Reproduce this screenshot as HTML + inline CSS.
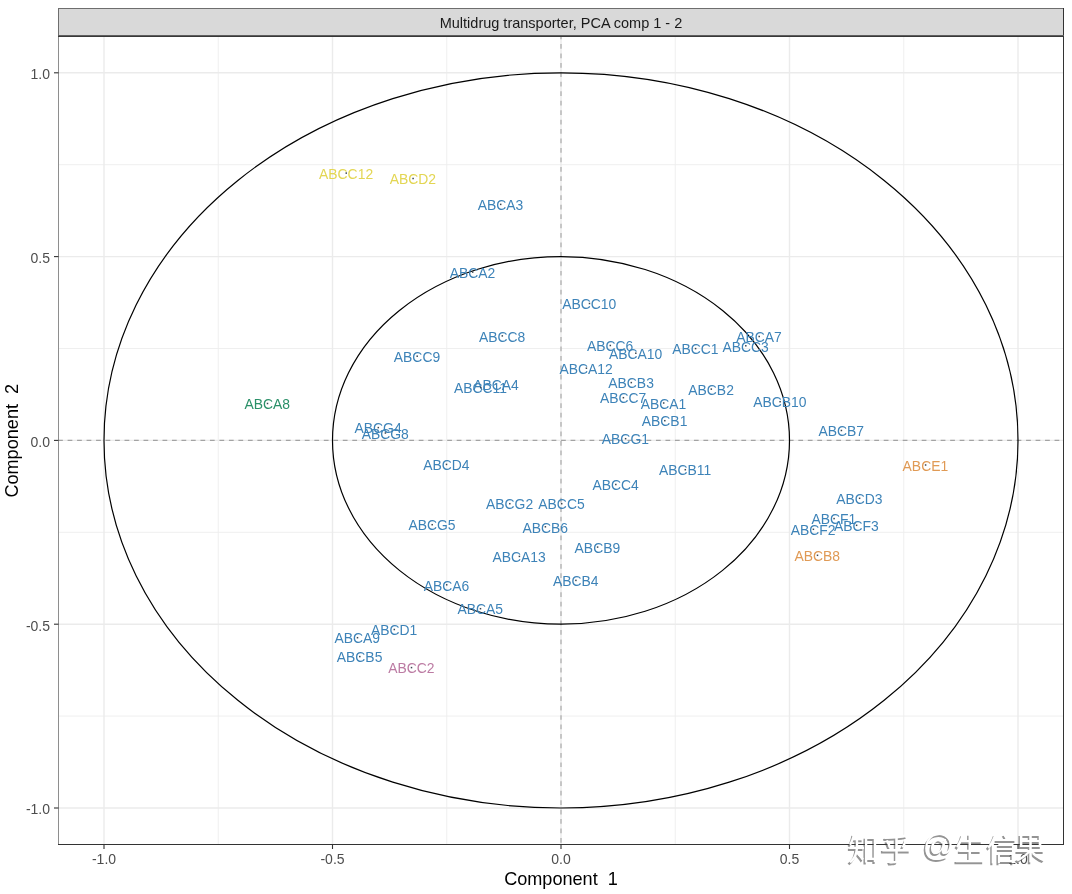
<!DOCTYPE html>
<html><head><meta charset="utf-8"><title>Multidrug transporter, PCA comp 1 - 2</title>
<style>
html,body{margin:0;padding:0;background:#fff;}
body{width:1072px;height:894px;overflow:hidden;position:relative;}
svg{display:block;position:absolute;left:0;top:0;will-change:transform;font-family:"Liberation Sans",Arial,sans-serif;}
.wm{position:absolute;font-family:"Liberation Sans","Noto Sans CJK SC",sans-serif;font-size:31px;line-height:1;color:#fff;white-space:nowrap;
text-shadow:-1.5px 1.5px 0.6px rgba(60,60,60,0.55);}
</style></head><body>
<svg width="1072" height="894" viewBox="0 0 1072 894">
<rect x="0" y="0" width="1072" height="894" fill="#fff"/>
<g shape-rendering="crispEdges">
<rect x="58" y="8" width="1006" height="29" fill="#D9D9D9"/>
<rect x="58" y="8" width="1006" height="1" fill="#6E6E6E"/>
<rect x="58" y="8" width="1" height="29" fill="#6E6E6E"/>
<rect x="1063" y="8" width="1" height="29" fill="#333333"/>
</g>
<text x="561.0" y="27.9" font-size="14.5" fill="#1A1A1A" text-anchor="middle">Multidrug transporter, PCA comp 1 - 2</text>
<line x1="218.25" y1="36.0" x2="218.25" y2="844.5" stroke="#EDEDED" stroke-width="0.9"/>
<line x1="58.5" y1="716.10" x2="1063.5" y2="716.10" stroke="#EDEDED" stroke-width="0.9"/>
<line x1="446.75" y1="36.0" x2="446.75" y2="844.5" stroke="#EDEDED" stroke-width="0.9"/>
<line x1="58.5" y1="532.30" x2="1063.5" y2="532.30" stroke="#EDEDED" stroke-width="0.9"/>
<line x1="675.25" y1="36.0" x2="675.25" y2="844.5" stroke="#EDEDED" stroke-width="0.9"/>
<line x1="58.5" y1="348.50" x2="1063.5" y2="348.50" stroke="#EDEDED" stroke-width="0.9"/>
<line x1="903.75" y1="36.0" x2="903.75" y2="844.5" stroke="#EDEDED" stroke-width="0.9"/>
<line x1="58.5" y1="164.70" x2="1063.5" y2="164.70" stroke="#EDEDED" stroke-width="0.9"/>
<line x1="104.00" y1="36.0" x2="104.00" y2="844.5" stroke="#EBEBEB" stroke-width="1.4"/>
<line x1="58.5" y1="808.00" x2="1063.5" y2="808.00" stroke="#EBEBEB" stroke-width="1.4"/>
<line x1="332.50" y1="36.0" x2="332.50" y2="844.5" stroke="#EBEBEB" stroke-width="1.4"/>
<line x1="58.5" y1="624.20" x2="1063.5" y2="624.20" stroke="#EBEBEB" stroke-width="1.4"/>
<line x1="561.00" y1="36.0" x2="561.00" y2="844.5" stroke="#EBEBEB" stroke-width="1.4"/>
<line x1="58.5" y1="440.40" x2="1063.5" y2="440.40" stroke="#EBEBEB" stroke-width="1.4"/>
<line x1="789.50" y1="36.0" x2="789.50" y2="844.5" stroke="#EBEBEB" stroke-width="1.4"/>
<line x1="58.5" y1="256.60" x2="1063.5" y2="256.60" stroke="#EBEBEB" stroke-width="1.4"/>
<line x1="1018.00" y1="36.0" x2="1018.00" y2="844.5" stroke="#EBEBEB" stroke-width="1.4"/>
<line x1="58.5" y1="72.80" x2="1063.5" y2="72.80" stroke="#EBEBEB" stroke-width="1.4"/>
<line x1="561.00" y1="36.0" x2="561.00" y2="844.5" stroke="#A3A3A3" stroke-width="1.1" stroke-dasharray="4.726 4.726" stroke-dashoffset="1.41"/>
<line x1="58.5" y1="440.40" x2="1063.5" y2="440.40" stroke="#A3A3A3" stroke-width="1.1" stroke-dasharray="4.745 4.745" stroke-dashoffset="0.4"/>
<ellipse cx="561.0" cy="440.4" rx="457.0" ry="367.6" fill="none" stroke="#000" stroke-width="1.2"/>
<ellipse cx="561.0" cy="440.4" rx="228.5" ry="183.8" fill="none" stroke="#000" stroke-width="1.2"/>
<rect x="345.50" y="172.35" width="1.5" height="1.5" fill="#3A4650"/>
<text x="346.1" y="178.8" font-size="13.9" fill="#E3D653" text-anchor="middle">ABCC12</text>
<rect x="412.35" y="177.75" width="1.5" height="1.5" fill="#3A4650"/>
<text x="412.9" y="184.2" font-size="13.9" fill="#E3D653" text-anchor="middle">ABCD2</text>
<rect x="499.95" y="203.65" width="1.5" height="1.5" fill="#3A4650"/>
<text x="500.5" y="210.1" font-size="13.9" fill="#3D83B8" text-anchor="middle">ABCA3</text>
<rect x="471.95" y="271.35" width="1.5" height="1.5" fill="#3A4650"/>
<text x="472.5" y="277.8" font-size="13.9" fill="#3D83B8" text-anchor="middle">ABCA2</text>
<rect x="588.75" y="302.75" width="1.5" height="1.5" fill="#3A4650"/>
<text x="589.3" y="309.2" font-size="13.9" fill="#3D83B8" text-anchor="middle">ABCC10</text>
<rect x="501.55" y="335.15" width="1.5" height="1.5" fill="#3A4650"/>
<text x="502.1" y="341.6" font-size="13.9" fill="#3D83B8" text-anchor="middle">ABCC8</text>
<rect x="609.55" y="344.75" width="1.5" height="1.5" fill="#3A4650"/>
<text x="610.1" y="351.2" font-size="13.9" fill="#3D83B8" text-anchor="middle">ABCC6</text>
<rect x="635.05" y="352.45" width="1.5" height="1.5" fill="#3A4650"/>
<text x="635.6" y="358.9" font-size="13.9" fill="#3D83B8" text-anchor="middle">ABCA10</text>
<rect x="694.85" y="347.85" width="1.5" height="1.5" fill="#3A4650"/>
<text x="695.4" y="354.3" font-size="13.9" fill="#3D83B8" text-anchor="middle">ABCC1</text>
<rect x="745.05" y="345.05" width="1.5" height="1.5" fill="#3A4650"/>
<text x="745.6" y="351.5" font-size="13.9" fill="#3D83B8" text-anchor="middle">ABCC3</text>
<rect x="758.45" y="335.75" width="1.5" height="1.5" fill="#3A4650"/>
<text x="759.0" y="342.2" font-size="13.9" fill="#3D83B8" text-anchor="middle">ABCA7</text>
<rect x="416.45" y="355.45" width="1.5" height="1.5" fill="#3A4650"/>
<text x="417.0" y="361.9" font-size="13.9" fill="#3D83B8" text-anchor="middle">ABCC9</text>
<rect x="585.65" y="367.45" width="1.5" height="1.5" fill="#3A4650"/>
<text x="586.2" y="373.9" font-size="13.9" fill="#3D83B8" text-anchor="middle">ABCA12</text>
<rect x="495.45" y="383.45" width="1.5" height="1.5" fill="#3A4650"/>
<text x="496.0" y="389.9" font-size="13.9" fill="#3D83B8" text-anchor="middle">ABCA4</text>
<rect x="479.95" y="386.75" width="1.5" height="1.5" fill="#3A4650"/>
<text x="480.5" y="393.2" font-size="13.9" fill="#3D83B8" text-anchor="middle">ABCC11</text>
<rect x="630.55" y="381.85" width="1.5" height="1.5" fill="#3A4650"/>
<text x="631.1" y="388.3" font-size="13.9" fill="#3D83B8" text-anchor="middle">ABCB3</text>
<rect x="622.65" y="396.95" width="1.5" height="1.5" fill="#3A4650"/>
<text x="623.2" y="403.4" font-size="13.9" fill="#3D83B8" text-anchor="middle">ABCC7</text>
<rect x="662.95" y="402.25" width="1.5" height="1.5" fill="#3A4650"/>
<text x="663.5" y="408.7" font-size="13.9" fill="#3D83B8" text-anchor="middle">ABCA1</text>
<rect x="710.55" y="388.35" width="1.5" height="1.5" fill="#3A4650"/>
<text x="711.1" y="394.8" font-size="13.9" fill="#3D83B8" text-anchor="middle">ABCB2</text>
<rect x="779.35" y="400.95" width="1.5" height="1.5" fill="#3A4650"/>
<text x="779.9" y="407.4" font-size="13.9" fill="#3D83B8" text-anchor="middle">ABCB10</text>
<rect x="664.05" y="419.95" width="1.5" height="1.5" fill="#3A4650"/>
<text x="664.6" y="426.4" font-size="13.9" fill="#3D83B8" text-anchor="middle">ABCB1</text>
<rect x="624.85" y="437.95" width="1.5" height="1.5" fill="#3A4650"/>
<text x="625.4" y="444.4" font-size="13.9" fill="#3D83B8" text-anchor="middle">ABCG1</text>
<rect x="266.75" y="402.75" width="1.5" height="1.5" fill="#3A4650"/>
<text x="267.3" y="409.2" font-size="13.9" fill="#2A9068" text-anchor="middle">ABCA8</text>
<rect x="377.55" y="426.85" width="1.5" height="1.5" fill="#3A4650"/>
<text x="378.1" y="433.3" font-size="13.9" fill="#3D83B8" text-anchor="middle">ABCG4</text>
<rect x="384.65" y="432.25" width="1.5" height="1.5" fill="#3A4650"/>
<text x="385.2" y="438.7" font-size="13.9" fill="#3D83B8" text-anchor="middle">ABCG8</text>
<rect x="445.75" y="463.65" width="1.5" height="1.5" fill="#3A4650"/>
<text x="446.3" y="470.1" font-size="13.9" fill="#3D83B8" text-anchor="middle">ABCD4</text>
<rect x="840.65" y="429.75" width="1.5" height="1.5" fill="#3A4650"/>
<text x="841.2" y="436.2" font-size="13.9" fill="#3D83B8" text-anchor="middle">ABCB7</text>
<rect x="684.55" y="468.95" width="1.5" height="1.5" fill="#3A4650"/>
<text x="685.1" y="475.4" font-size="13.9" fill="#3D83B8" text-anchor="middle">ABCB11</text>
<rect x="924.85" y="464.25" width="1.5" height="1.5" fill="#3A4650"/>
<text x="925.4" y="470.7" font-size="13.9" fill="#E09A55" text-anchor="middle">ABCE1</text>
<rect x="615.05" y="483.75" width="1.5" height="1.5" fill="#3A4650"/>
<text x="615.6" y="490.2" font-size="13.9" fill="#3D83B8" text-anchor="middle">ABCC4</text>
<rect x="509.05" y="502.95" width="1.5" height="1.5" fill="#3A4650"/>
<text x="509.6" y="509.4" font-size="13.9" fill="#3D83B8" text-anchor="middle">ABCG2</text>
<rect x="560.95" y="502.95" width="1.5" height="1.5" fill="#3A4650"/>
<text x="561.5" y="509.4" font-size="13.9" fill="#3D83B8" text-anchor="middle">ABCC5</text>
<rect x="431.45" y="523.95" width="1.5" height="1.5" fill="#3A4650"/>
<text x="432.0" y="530.4" font-size="13.9" fill="#3D83B8" text-anchor="middle">ABCG5</text>
<rect x="544.65" y="526.05" width="1.5" height="1.5" fill="#3A4650"/>
<text x="545.2" y="532.5" font-size="13.9" fill="#3D83B8" text-anchor="middle">ABCB6</text>
<rect x="596.85" y="546.35" width="1.5" height="1.5" fill="#3A4650"/>
<text x="597.4" y="552.8" font-size="13.9" fill="#3D83B8" text-anchor="middle">ABCB9</text>
<rect x="518.65" y="555.65" width="1.5" height="1.5" fill="#3A4650"/>
<text x="519.2" y="562.1" font-size="13.9" fill="#3D83B8" text-anchor="middle">ABCA13</text>
<rect x="858.85" y="497.55" width="1.5" height="1.5" fill="#3A4650"/>
<text x="859.4" y="504.0" font-size="13.9" fill="#3D83B8" text-anchor="middle">ABCD3</text>
<rect x="833.35" y="517.85" width="1.5" height="1.5" fill="#3A4650"/>
<text x="833.9" y="524.3" font-size="13.9" fill="#3D83B8" text-anchor="middle">ABCF1</text>
<rect x="855.85" y="524.55" width="1.5" height="1.5" fill="#3A4650"/>
<text x="856.4" y="531.0" font-size="13.9" fill="#3D83B8" text-anchor="middle">ABCF3</text>
<rect x="812.65" y="528.55" width="1.5" height="1.5" fill="#3A4650"/>
<text x="813.2" y="535.0" font-size="13.9" fill="#3D83B8" text-anchor="middle">ABCF2</text>
<rect x="816.75" y="554.55" width="1.5" height="1.5" fill="#3A4650"/>
<text x="817.3" y="561.0" font-size="13.9" fill="#E09A55" text-anchor="middle">ABCB8</text>
<rect x="445.95" y="584.05" width="1.5" height="1.5" fill="#3A4650"/>
<text x="446.5" y="590.5" font-size="13.9" fill="#3D83B8" text-anchor="middle">ABCA6</text>
<rect x="575.15" y="579.65" width="1.5" height="1.5" fill="#3A4650"/>
<text x="575.7" y="586.1" font-size="13.9" fill="#3D83B8" text-anchor="middle">ABCB4</text>
<rect x="479.75" y="607.95" width="1.5" height="1.5" fill="#3A4650"/>
<text x="480.3" y="614.4" font-size="13.9" fill="#3D83B8" text-anchor="middle">ABCA5</text>
<rect x="393.55" y="628.75" width="1.5" height="1.5" fill="#3A4650"/>
<text x="394.1" y="635.2" font-size="13.9" fill="#3D83B8" text-anchor="middle">ABCD1</text>
<rect x="356.75" y="636.95" width="1.5" height="1.5" fill="#3A4650"/>
<text x="357.3" y="643.4" font-size="13.9" fill="#3D83B8" text-anchor="middle">ABCA9</text>
<rect x="359.05" y="655.85" width="1.5" height="1.5" fill="#3A4650"/>
<text x="359.6" y="662.3" font-size="13.9" fill="#3D83B8" text-anchor="middle">ABCB5</text>
<rect x="410.75" y="666.85" width="1.5" height="1.5" fill="#3A4650"/>
<text x="411.3" y="673.3" font-size="13.9" fill="#BC7BA3" text-anchor="middle">ABCC2</text>
<g shape-rendering="crispEdges">
<rect x="58" y="35" width="1006" height="1" fill="#5E5E5E"/>
<rect x="58" y="36" width="1006" height="1" fill="#383838"/>
<rect x="58" y="37" width="1" height="808" fill="#8E8E8E"/>
<rect x="1063" y="37" width="1" height="808" fill="#333333"/>
<rect x="58" y="844" width="1006" height="1" fill="#333333"/>
</g>
<line x1="104.00" y1="844.5" x2="104.00" y2="849.0" stroke="#333333" stroke-width="1.1"/>
<text x="104.00" y="863.6" font-size="14.0" fill="#4D4D4D" text-anchor="middle">-1.0</text>
<line x1="54.0" y1="808.00" x2="58.5" y2="808.00" stroke="#333333" stroke-width="1.1"/>
<text x="50.00" y="814.3" font-size="14.0" fill="#4D4D4D" text-anchor="end">-1.0</text>
<line x1="332.50" y1="844.5" x2="332.50" y2="849.0" stroke="#333333" stroke-width="1.1"/>
<text x="332.50" y="863.6" font-size="14.0" fill="#4D4D4D" text-anchor="middle">-0.5</text>
<line x1="54.0" y1="624.20" x2="58.5" y2="624.20" stroke="#333333" stroke-width="1.1"/>
<text x="50.00" y="630.5" font-size="14.0" fill="#4D4D4D" text-anchor="end">-0.5</text>
<line x1="561.00" y1="844.5" x2="561.00" y2="849.0" stroke="#333333" stroke-width="1.1"/>
<text x="561.00" y="863.6" font-size="14.0" fill="#4D4D4D" text-anchor="middle">0.0</text>
<line x1="54.0" y1="440.40" x2="58.5" y2="440.40" stroke="#333333" stroke-width="1.1"/>
<text x="50.00" y="446.7" font-size="14.0" fill="#4D4D4D" text-anchor="end">0.0</text>
<line x1="789.50" y1="844.5" x2="789.50" y2="849.0" stroke="#333333" stroke-width="1.1"/>
<text x="789.50" y="863.6" font-size="14.0" fill="#4D4D4D" text-anchor="middle">0.5</text>
<line x1="54.0" y1="256.60" x2="58.5" y2="256.60" stroke="#333333" stroke-width="1.1"/>
<text x="50.00" y="262.9" font-size="14.0" fill="#4D4D4D" text-anchor="end">0.5</text>
<line x1="1018.00" y1="844.5" x2="1018.00" y2="849.0" stroke="#333333" stroke-width="1.1"/>
<text x="1018.00" y="863.6" font-size="14.0" fill="#4D4D4D" text-anchor="middle">1.0</text>
<line x1="54.0" y1="72.80" x2="58.5" y2="72.80" stroke="#333333" stroke-width="1.1"/>
<text x="50.00" y="79.1" font-size="14.0" fill="#4D4D4D" text-anchor="end">1.0</text>
<text x="561.0" y="885.2" font-size="18.1" fill="#000" text-anchor="middle" xml:space="preserve">Component  1</text>
<text transform="translate(17.6,440.75) rotate(-90)" font-size="18.1" fill="#000" text-anchor="middle" xml:space="preserve">Component  2</text>
</svg>
<div class="wm" style="left:848.1px;top:833.6px">知</div><div class="wm" style="left:880.7px;top:833.6px">乎</div><div class="wm" style="left:922.7px;top:829.7px">@</div><div class="wm" style="left:954.3px;top:833.6px">生</div><div class="wm" style="left:986.4px;top:833.6px">信</div><div class="wm" style="left:1014.9px;top:832.6px">果</div>
</body></html>
